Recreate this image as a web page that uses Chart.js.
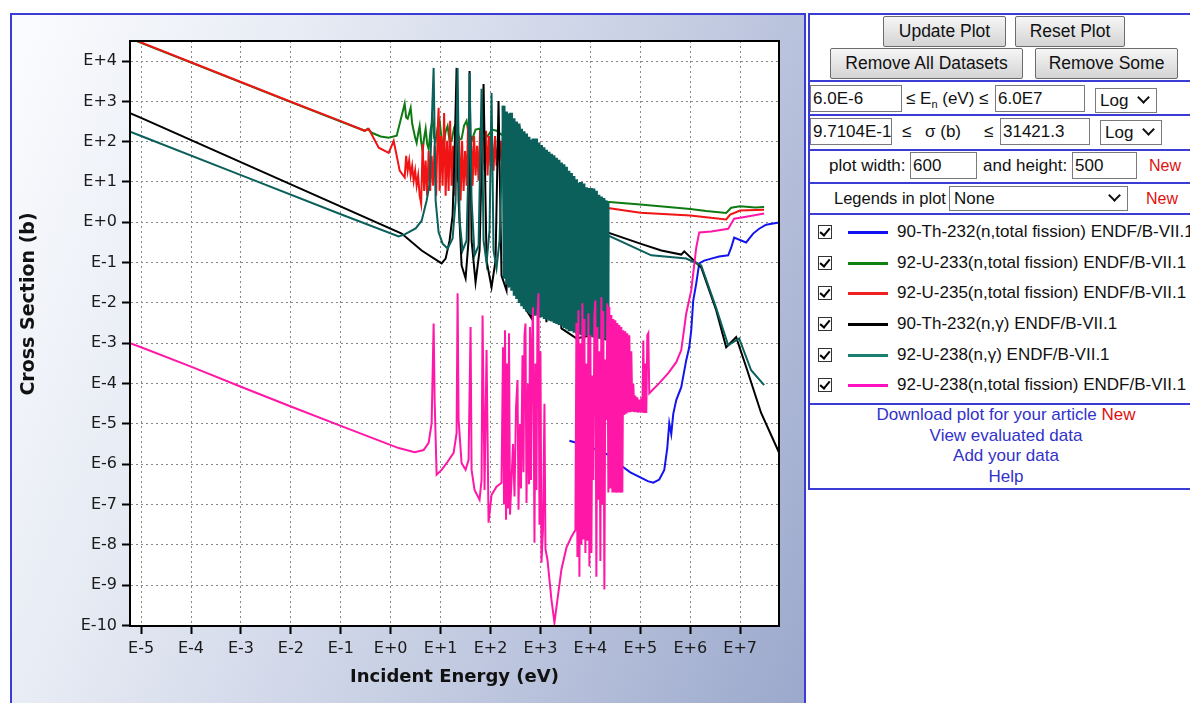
<!DOCTYPE html>
<html><head><meta charset="utf-8">
<script src="https://cdn.jsdelivr.net/npm/chart.js@4.4.1/dist/chart.umd.min.js"></script>
<style>
html,body{margin:0;padding:0;background:#fff;width:1190px;height:703px;overflow:hidden;font-family:"Liberation Sans",Arial,sans-serif;}
#plotPanel{position:absolute;left:10px;top:13px;width:792px;height:700px;border:2px solid #3b3bd6;
  background:linear-gradient(112deg,#fbfcfe 0%,#e7ebf4 28%,#c6cee3 62%,#9ba8cc 100%);}
#c{position:absolute;left:0;top:0;}
#ctrl{position:absolute;left:808px;top:13px;width:392px;height:473px;border:2px solid #3b3bd6;background:#fff;font-size:17px;color:#111;}
.sep{position:absolute;left:0;width:100%;height:2px;background:#3b3bd6;}
.btn{position:absolute;height:31px;border:1px solid #6c6c6c;border-radius:2px;background:linear-gradient(#f6f6f6,#d4d4d4);
  font-size:17.5px;line-height:29px;text-align:center;color:#111;box-sizing:border-box;white-space:nowrap;}
.inp{position:absolute;height:27px;border:1px solid #7a7a7a;background:#fff;box-sizing:border-box;font-size:17px;line-height:25px;padding-left:2px;overflow:hidden;white-space:nowrap;}
.sel{position:absolute;height:25px;border:1px solid #7a7a7a;background:#fff;box-sizing:border-box;font-size:17px;line-height:23px;padding-left:4px;}
.sel .chev{position:absolute;right:8px;top:4px;width:7px;height:7px;border-right:2px solid #111;border-bottom:2px solid #111;transform:rotate(45deg);}
.txt{position:absolute;line-height:27px;white-space:nowrap;font-size:17px;}
.new{color:#e01010;font-size:16px;}
.leg{position:absolute;left:0;height:24px;width:392px;}
.cb{position:absolute;left:8px;top:5px;width:14px;height:14px;border:1px solid #333;box-sizing:border-box;background:#fff;}
.cb::after{content:"";position:absolute;left:3px;top:0px;width:4px;height:8px;border-right:2px solid #000;border-bottom:2px solid #000;transform:rotate(40deg);}
.sw{position:absolute;left:38px;top:11px;width:40px;height:3px;}
.lt{position:absolute;left:87px;top:0;line-height:24px;white-space:nowrap;font-size:17px;}
#links{position:absolute;left:0;top:390px;width:392px;text-align:center;line-height:20.6px;color:#3232c8;font-size:17px;}
#links .new{font-size:17px;}
</style></head>
<body>
<div id="plotPanel"><canvas id="c" width="792" height="688"></canvas></div>
<div id="ctrl">
  <div class="btn" style="left:73px;top:1px;width:123px;">Update Plot</div>
  <div class="btn" style="left:205px;top:1px;width:110px;">Reset Plot</div>
  <div class="btn" style="left:20px;top:33px;width:193px;">Remove All Datasets</div>
  <div class="btn" style="left:225px;top:33px;width:143px;">Remove Some</div>
  <div class="sep" style="top:65px;"></div>
  <div class="inp" style="left:0;top:70px;width:92px;">6.0E-6</div>
  <div class="txt" style="left:96px;top:70px;">≤ E<sub style="font-size:11px;">n</sub> (eV) ≤</div>
  <div class="inp" style="left:185px;top:70px;width:90px;">6.0E7</div>
  <div class="sel" style="left:285px;top:73px;width:62px;">Log<span class="chev"></span></div>
  <div class="sep" style="top:99px;"></div>
  <div class="inp" style="left:0;top:103px;width:82px;">9.7104E-11</div>
  <div class="txt" style="left:92px;top:103px;">≤</div>
  <div class="txt" style="left:115px;top:103px;">σ (b)</div>
  <div class="txt" style="left:174px;top:103px;">≤</div>
  <div class="inp" style="left:190px;top:103px;width:90px;">31421.3</div>
  <div class="sel" style="left:290px;top:105px;width:62px;">Log<span class="chev"></span></div>
  <div class="sep" style="top:134px;"></div>
  <div class="txt" style="left:19px;top:137px;">plot width:</div>
  <div class="inp" style="left:100px;top:137px;width:67px;">600</div>
  <div class="txt" style="left:173px;top:137px;">and height:</div>
  <div class="inp" style="left:262px;top:137px;width:65px;">500</div>
  <div class="txt new" style="left:339px;top:137px;">New</div>
  <div class="sep" style="top:167px;"></div>
  <div class="txt" style="left:24px;top:170px;font-size:16.5px;">Legends in plot</div>
  <div class="sel" style="left:139px;top:171px;width:179px;">None<span class="chev"></span></div>
  <div class="txt new" style="left:336px;top:170px;">New</div>
  <div class="sep" style="top:198px;"></div>
  <div id="legendRows"></div>
  <div class="sep" style="top:388px;"></div>
  <div id="links">Download plot for your article <span class="new">New</span><br>View evaluated data<br>Add your data<br>Help</div>
</div>
<script>
// Axis ticks (decade exponents) and their labels
const xTickValues = [-5,-4,-3,-2,-1,0,1,2,3,4,5,6,7];
const xTickLabels = ['E-5','E-4','E-3','E-2','E-1','E+0','E+1','E+2','E+3','E+4','E+5','E+6','E+7'];
const yTickValues = [-10,-9,-8,-7,-6,-5,-4,-3,-2,-1,0,1,2,3,4];
const yTickLabels = ['E-10','E-9','E-8','E-7','E-6','E-5','E-4','E-3','E-2','E-1','E+0','E+1','E+2','E+3','E+4'];
// log10 limits: 6.0E-6 .. 6.0E7 eV, 9.7104E-11 .. 31421.3 b
const xRange = [-5.222, 7.778];
const yRange = [-10.013, 4.497];

const seriesNames = [
  '90-Th-232(n,total fission) ENDF/B-VII.1',
  '92-U-233(n,total fission) ENDF/B-VII.1',
  '92-U-235(n,total fission) ENDF/B-VII.1',
  '90-Th-232(n,γ) ENDF/B-VII.1',
  '92-U-238(n,γ) ENDF/B-VII.1',
  '92-U-238(n,total fission) ENDF/B-VII.1'
];

// Series points: [log10 E (eV), log10 sigma (b)]
const th232Fission = [[3.58,-5.42],[3.8,-5.50],[4.0,-5.58],[4.2,-5.68],[4.36,-5.77],[4.5,-5.90],[4.62,-6.04],[4.8,-6.20],[5.02,-6.34],[5.15,-6.42],[5.26,-6.46],[5.38,-6.38],[5.48,-6.14],[5.54,-5.60],[5.58,-4.98],[5.62,-5.25],[5.66,-4.75],[5.72,-4.41],[5.82,-4.09],[5.92,-3.42],[5.98,-3.10],[6.02,-2.68],[6.06,-1.94],[6.12,-1.52],[6.18,-1.02],[6.28,-0.95],[6.42,-0.90],[6.58,-0.85],[6.76,-0.82],[6.82,-0.63],[6.88,-0.38],[7.02,-0.45],[7.12,-0.50],[7.26,-0.28],[7.38,-0.16],[7.52,-0.06],[7.66,-0.03],[7.8,0.0]];

const u233Fission = [[-5.222,4.56],[-4,3.96],[-3,3.47],[-2,2.98],[-1,2.50],[-0.52,2.27],[-0.46,2.32],[-0.38,2.22],[-0.2,2.13],[-0.04,2.10],[0.12,2.15],[0.22,2.64],[0.28,2.94],[0.31,2.60],[0.34,2.57],[0.37,2.70],[0.40,2.84],[0.43,2.45],[0.46,2.27],[0.49,2.10],[0.52,1.97],[0.55,2.20],[0.58,2.39],[0.61,2.00],[0.64,1.77],[0.67,2.10],[0.70,2.32],[0.73,1.95],[0.76,1.82],[0.80,2.30],[0.84,2.57],[0.87,2.10],[0.90,2.02],[0.94,2.35],[0.98,2.52],[1.02,2.05],[1.06,1.90],[1.10,2.25],[1.14,2.39],[1.18,2.00],[1.22,2.02],[1.27,2.35],[1.32,2.47],[1.37,2.05],[1.42,2.07],[1.47,2.40],[1.52,2.52],[1.57,2.10],[1.62,2.02],[1.70,2.30],[1.78,2.32],[1.86,2.05],[1.94,2.14],[2.03,2.30],[2.12,2.27],[2.5,1.9],[2.82,1.53],[3.2,1.2],[3.52,0.91],[3.9,0.7],[4.32,0.51],[5.0,0.44],[6.0,0.33],[6.32,0.28],[6.72,0.23],[6.82,0.36],[7.0,0.40],[7.3,0.37],[7.48,0.38]];

const u235Fission = [[-5.222,4.57],[-4,3.97],[-3,3.48],[-2,2.99],[-1,2.51],[-0.52,2.27],[-0.44,2.32],[-0.24,1.85],[-0.04,1.72],[0.06,2.02],[0.18,1.28],[0.28,1.11],[0.31,1.65],[0.34,1.28],[0.37,1.53],[0.40,1.16],[0.43,1.40],[0.46,1.03],[0.49,1.28],[0.52,0.91],[0.55,1.16],[0.58,0.66],[0.61,0.46],[0.64,1.95],[0.67,0.78],[0.70,1.53],[0.73,0.66],[0.76,1.77],[0.79,0.78],[0.82,1.65],[0.85,0.91],[0.88,1.90],[0.91,0.66],[0.94,2.27],[0.96,2.84],[0.98,0.78],[1.01,2.14],[1.04,0.91],[1.07,2.71],[1.10,0.66],[1.13,2.02],[1.16,0.78],[1.19,2.52],[1.22,0.91],[1.25,1.90],[1.28,0.66],[1.31,2.27],[1.34,1.03],[1.37,2.14],[1.40,0.54],[1.43,2.02],[1.46,0.78],[1.49,1.77],[1.52,0.91],[1.55,2.39],[1.58,1.03],[1.61,2.14],[1.64,0.91],[1.67,2.14],[1.70,1.16],[1.73,1.90],[1.76,1.03],[1.79,2.27],[1.82,1.16],[1.85,2.02],[1.88,1.28],[1.91,2.27],[1.94,1.16],[1.97,2.14],[2.00,1.40],[2.03,2.02],[2.06,1.28],[2.09,2.14],[2.12,1.40],[2.15,1.90],[2.18,1.53],[2.21,2.02],[2.24,1.53],[2.27,1.77],[2.82,1.77],[3.42,1.16],[4.02,0.66],[4.32,0.36],[5.0,0.24],[6.0,0.17],[6.72,0.07],[6.8,0.19],[7.0,0.29],[7.48,0.31]];

const th232Capture = [[-5.222,2.71],[-5,2.59],[-2,0.94],[0.22,-0.28],[0.62,-0.70],[1.02,-1.02],[1.10,-0.90],[1.18,-0.45],[1.24,0.17],[1.28,1.77],[1.32,3.83],[1.36,0.54],[1.42,-1.07],[1.50,-1.39],[1.56,-0.45],[1.58,3.75],[1.62,-0.45],[1.70,-1.49],[1.78,-0.70],[1.86,3.43],[1.92,-0.95],[2.02,-1.61],[2.10,-0.95],[2.16,3.01],[2.22,-1.32],[2.32,-1.69],[2.42,2.52],[2.50,-1.81],[2.58,2.39],[2.66,-2.06],[2.82,-2.38],[2.92,1.77],[3.12,-2.48],[3.18,1.53],[3.42,-2.63],[3.72,-2.88],[4.02,-2.80],[4.30,-2.90],[4.34,-0.25],[5.0,-0.53],[5.42,-0.70],[5.82,-0.80],[5.88,-0.72],[6.22,-1.12],[6.52,-2.18],[6.72,-3.10],[6.92,-2.85],[7.12,-3.59],[7.42,-4.73],[7.8,-5.77]];

// U-238(n,g): resolved resonances, then the dense resonance band (alternating peaks / troughs), then the smooth tail
const u238Capture = [[-5.222,2.25],[-5,2.14],[-3,1.17],[-1,0.20],[0.16,-0.35],[0.28,-0.30],[0.50,-0.15],[0.62,0.04],[0.72,0.54],[0.78,0.96],[0.86,3.83],[0.90,0.54],[0.96,-0.25],[1.04,-0.53],[1.14,-0.65],[1.24,-0.40],[1.30,0.54],[1.34,3.83],[1.38,0.04],[1.44,-0.70],[1.52,-0.45],[1.56,1.53],[1.58,3.70],[1.62,0.54],[1.68,-0.82],[1.76,-0.58],[1.82,3.31],[1.86,-0.45],[1.92,-1.00],[1.98,-0.20],[2.02,3.21],[2.06,-0.70],[2.12,-1.14],[2.18,-0.45],
 [2.260,2.89],[2.285,-1.40],[2.310,2.75],[2.335,-1.55],[2.360,2.70],[2.385,-1.62],[2.410,2.72],[2.435,-1.70],[2.460,2.58],[2.485,-1.82],[2.510,2.50],[2.535,-1.90],[2.560,2.45],[2.585,-2.00],[2.610,2.32],[2.635,-2.08],[2.660,2.26],[2.685,-2.15],[2.710,2.20],[2.735,-2.22],[2.760,2.12],[2.785,-2.26],[2.810,2.05],[2.835,-2.30],[2.860,2.08],[2.885,-2.32],[2.910,2.08],[2.935,-2.30],[2.960,1.98],[2.985,-2.36],[3.010,1.92],[3.035,-2.35],[3.060,1.86],[3.085,-2.40],[3.110,1.80],[3.135,-2.42],[3.160,1.75],[3.185,-2.44],[3.210,1.70],[3.235,-2.46],[3.260,1.66],[3.285,-2.50],[3.310,1.60],[3.335,-2.52],[3.360,1.55],[3.385,-2.55],[3.410,1.48],[3.435,-2.58],[3.460,1.44],[3.485,-2.62],[3.510,1.38],[3.535,-2.66],[3.560,1.28],[3.585,-2.70],[3.610,1.22],[3.635,-2.70],[3.660,1.15],[3.685,-2.74],[3.710,1.07],[3.735,-2.76],[3.760,0.98],[3.785,-2.78],[3.810,1.00],[3.835,-2.80],[3.860,0.96],[3.885,-2.81],[3.910,0.87],[3.935,-2.82],[3.960,0.85],[3.985,-2.84],[4.010,0.85],[4.035,-2.85],[4.060,0.84],[4.085,-2.86],[4.110,0.78],[4.135,-2.87],[4.160,0.68],[4.185,-2.88],[4.210,0.64],[4.235,-2.88],[4.260,0.60],[4.285,-2.88],[4.310,0.54],[4.335,-2.88],[4.340,0.49],[4.345,-2.88],
 [4.36,-0.33],[5.22,-0.82],[5.92,-0.90],[6.22,-1.07],[6.52,-2.13],[6.76,-3.05],[6.98,-2.88],[7.22,-3.67],[7.48,-4.04]];

const u238Fission = [[-5.222,-3.0],[-5,-3.10],[-4,-3.58],[-3,-4.08],[-2,-4.57],[-1,-5.05],[0.16,-5.60],[0.48,-5.70],[0.66,-5.65],[0.76,-5.47],[0.82,-4.98],[0.86,-2.51],[0.88,-4.41],[0.92,-6.26],[1.02,-6.14],[1.14,-5.94],[1.26,-5.72],[1.32,-5.23],[1.34,-1.76],[1.36,-4.90],[1.42,-5.97],[1.50,-6.14],[1.56,-5.89],[1.60,-2.60],[1.62,-6.14],[1.68,-6.64],[1.78,-6.88],[1.82,-6.39],[1.84,-2.31],[1.88,-6.64],[1.92,-3.17],[1.96,-7.45],[2.02,-6.76],[2.12,-6.56],[2.22,-6.46],[2.25,-3.1],[2.27,-7.0],[2.29,-2.68],[2.31,-7.38],[2.33,-3.5],[2.35,-7.1],[2.37,-2.75],[2.39,-7.25],[2.42,-6.4],[2.45,-5.5],[2.48,-6.8],[2.51,-4.6],[2.54,-3.91],[2.56,-7.13],[2.59,-5.0],[2.61,-6.6],[2.64,-3.3],[2.66,-6.2],[2.68,-2.8],[2.70,-2.51],[2.72,-6.96],[2.75,-4.0],[2.77,-6.5],[2.79,-2.6],[2.81,-6.39],[2.83,-3.0],[2.85,-2.11],[2.88,-7.95],[2.90,-3.5],[2.92,-6.64],[2.94,-2.3],[2.96,-1.76],[2.98,-7.5],[3.00,-3.2],[3.02,-8.44],[3.05,-7.63],[3.08,-4.5],[3.10,-8.1],[3.14,-8.37],[3.22,-9.36],[3.28,-9.93],[3.34,-9.36],[3.42,-8.61],[3.52,-8.07],[3.62,-7.80],[3.70,-7.63],[3.72,-2.5],[3.74,-8.3],[3.76,-2.18],[3.78,-8.79],[3.80,-3.0],[3.82,-8.0],[3.84,-2.01],[3.86,-7.87],[3.88,-2.4],[3.90,-8.2],[3.92,-3.5],[3.94,-7.9],[3.96,-2.26],[3.98,-8.54],[4.00,-2.8],[4.02,-8.2],[4.04,-3.8],[4.06,-6.39],[4.08,-2.3],[4.10,-1.94],[4.12,-8.79],[4.14,-2.6],[4.16,-6.88],[4.18,-3.2],[4.20,-8.4],[4.22,-1.86],[4.24,-7.0],[4.26,-2.2],[4.28,-9.11],[4.30,-3.4],[4.32,-4.90],[4.34,-2.01],[4.36,-6.7],[4.38,-2.1],[4.40,-6.6],[4.42,-2.3],[4.44,-6.7],[4.46,-2.4],[4.48,-6.7],[4.50,-2.43],[4.52,-6.71],[4.54,-2.5],[4.56,-6.7],[4.58,-2.55],[4.60,-6.71],[4.62,-2.6],[4.64,-6.7],[4.66,-2.68],[4.68,-4.78],[4.70,-2.7],[4.72,-4.75],[4.74,-2.75],[4.76,-4.72],[4.78,-2.8],[4.80,-4.71],[4.82,-3.2],[4.84,-4.7],[4.86,-4.0],[4.88,-4.71],[4.90,-4.3],[4.92,-4.71],[4.94,-4.34],[4.96,-4.72],[4.98,-4.4],[5.00,-4.71],[5.02,-4.35],[5.04,-4.72],[5.06,-2.93],[5.08,-4.73],[5.10,-3.5],[5.12,-4.73],[5.14,-2.8],[5.16,-2.75],[5.18,-4.24],[5.38,-3.99],[5.56,-3.74],[5.72,-3.47],[5.82,-3.17],[5.92,-2.26],[6.02,-1.69],[6.12,-0.63],[6.18,-0.25],[6.42,-0.23],[6.76,-0.16],[6.88,0.09],[7.12,0.14],[7.48,0.22]];

const seriesColors = ['#1414ee','#0f7a12','#f01414','#000000','#0b605b','#ff18a8'];
const legendColors = ['#1010f0','#108010','#f02020','#000000','#1a7e70','#ff10c0'];

// HTML legend list (side panel)
const rows = document.getElementById('legendRows');
const rowTops = [205,236,266,297,328,358];
seriesNames.forEach((n,i)=>{
  const d = document.createElement('div');
  d.className='leg'; d.style.top = rowTops[i]+'px';
  d.innerHTML = '<div class="cb"></div><div class="sw" style="background:'+legendColors[i]+'"></div><div class="lt"></div>';
  d.querySelector('.lt').textContent = n;
  rows.appendChild(d);
});

const seriesData = [th232Fission,u233Fission,u235Fission,th232Capture,u238Capture,u238Fission];
const drawOrder = [6,5,4,3,1,0];
// heavier stroke inside the dense resonance band so it renders as a solid area
const denseSpan = [2.25, 4.35];
const datasets = seriesData.map((d,i)=>({
  label: seriesNames[i], data: d, borderColor: seriesColors[i], backgroundColor: seriesColors[i],
  borderWidth: 2, pointRadius: 0, fill: false, order: drawOrder[i], tension: 0,
  segment: i === 4 ? {borderWidth: c => (c.p0.parsed.x >= denseSpan[0] && c.p1.parsed.x <= denseSpan[1]) ? 4 : undefined} : undefined
}));

const plotFrame = {
  id:'plotFrame',
  beforeDraw(chart){
    const {ctx, chartArea:a} = chart;
    ctx.save(); ctx.fillStyle='#fff'; ctx.fillRect(a.left,a.top,a.right-a.left,a.bottom-a.top); ctx.restore();
  },
  afterDatasetsDraw(chart){
    const {ctx, chartArea:a} = chart;
    ctx.save(); ctx.strokeStyle='#000'; ctx.lineWidth=2;
    ctx.strokeRect(a.left,a.top,a.right-a.left,a.bottom-a.top); ctx.restore();
  },
  afterDraw(chart){
    const ctx = chart.ctx;
    ctx.save();
    ctx.translate(17,289); ctx.rotate(-Math.PI/2);
    ctx.font='bold 19px "DejaVu Sans", Verdana, sans-serif';
    ctx.fillStyle='#111'; ctx.textAlign='center'; ctx.textBaseline='middle';
    ctx.fillText('Cross Section (b)',0,0);
    ctx.restore();
  }
};

const tickFont = {family:'"DejaVu Sans", Verdana, sans-serif', size:16};
new Chart(document.getElementById('c'), {
  type:'line',
  data:{datasets},
  plugins:[plotFrame],
  options:{
    responsive:false, animation:false, events:[],
    layout:{padding:{top:26,right:25,bottom:0,left:0}},
    plugins:{legend:{display:false}, tooltip:{enabled:false}},
    elements:{line:{tension:0}},
    scales:{
      x:{type:'linear', min:xRange[0], max:xRange[1],
        afterBuildTicks:s=>{s.ticks = xTickValues.map(v=>({value:v}));},
        afterFit:s=>{s.height=77;},
        ticks:{autoSkip:false, maxRotation:0, padding:5, color:'#1a1a1a', font:tickFont,
          callback:(v,i)=>xTickLabels[i]},
        grid:{color:'#888888', lineWidth:1, tickColor:'#000', tickLength:8, tickWidth:2},
        border:{display:true, color:'#000', width:2, dash:[2,3]},
        title:{display:true, text:'Incident Energy (eV)', color:'#111', padding:{top:0,bottom:15},
          font:{family:'"DejaVu Sans", Verdana, sans-serif', size:18, weight:'bold'}}
      },
      y:{type:'linear', min:yRange[0], max:yRange[1],
        afterBuildTicks:s=>{s.ticks = yTickValues.map(v=>({value:v}));},
        afterFit:s=>{s.width=118;},
        ticks:{autoSkip:false, padding:5, color:'#1a1a1a', font:tickFont,
          callback:(v,i)=>yTickLabels[i]},
        grid:{color:'#888888', lineWidth:1, tickColor:'#000', tickLength:8, tickWidth:2},
        border:{display:true, color:'#000', width:2, dash:[2,3]}
      }
    }
  }
});
</script>
</body></html>
